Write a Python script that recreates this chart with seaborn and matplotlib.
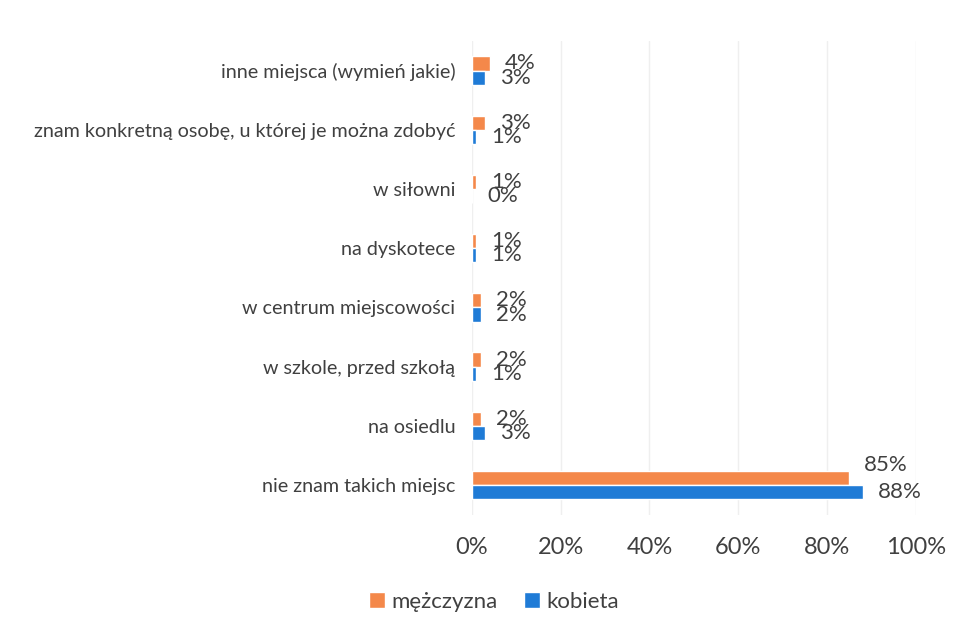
import pandas as pd
import matplotlib.pyplot as plt
import seaborn as sns

# data (top to bottom)
categories = [
    "inne miejsca (wymień jakie)",
    "znam konkretną osobę, u której je można zdobyć",
    "w siłowni",
    "na dyskotece",
    "w centrum miejscowości",
    "w szkole, przed szkołą",
    "na osiedlu",
    "nie znam takich miejsc",
]
men = [4, 3, 1, 1, 2, 2, 2, 85]
women = [3, 1, 0, 1, 2, 1, 3, 88]
series = ["mężczyzna", "kobieta"]
colors = ["#F4884A", "#1F7BD6"]
x_ticks = [0, 20, 40, 60, 80, 100]

sns.set_style("white")
plt.rcParams['font.family'] = ['Lato', 'DejaVu Sans']

df = pd.DataFrame({
    "category": categories * 2,
    "value": men + women,
    "series": [series[0]] * len(categories) + [series[1]] * len(categories),
})

fig = plt.figure(figsize=(9.57, 6.3), dpi=100)
ax = fig.add_axes([0.493, 0.183, 0.464, 0.752])

sns.barplot(data=df, y="category", x="value", hue="series", order=categories,
            hue_order=series, palette=colors, orient="h", width=0.48,
            saturation=1, ax=ax, legend=True)

text_col = "#404040"
for i, cont in enumerate(ax.containers):
    for bar in cont:
        w = bar.get_width()
        yc = bar.get_y() + bar.get_height() / 2
        # big bars: Excel pushes the upper label a bit higher
        if w > 50 and i == 0:
            yc -= 0.22
        ax.text(w + 3.4, yc, f"{w:.0f}%", ha="left", va="center",
                fontsize=16, color=text_col)

ax.set_xlim(0, 100)
ax.set_ylim(7.5, -0.5)
ax.set_xticks(x_ticks)
ax.set_xticklabels([f"{t}%" for t in x_ticks], fontsize=17, color=text_col)
ax.tick_params(axis="x", pad=16, length=0)
ax.tick_params(axis="y", labelsize=14.2, colors=text_col, length=0, pad=12)
ax.set_xlabel("")
ax.set_ylabel("")
ax.grid(axis="x", color="#efefef", linewidth=1)
ax.set_axisbelow(True)
for s in ax.spines.values():
    s.set_visible(False)

ax.legend(loc="upper center", bbox_to_anchor=(0.05, -0.12), ncol=2,
          frameon=False, fontsize=16, handlelength=0.7, handleheight=0.7,
          handletextpad=0.3, columnspacing=1.2, labelcolor=text_col)

fig.savefig("out.png", dpi=100)
